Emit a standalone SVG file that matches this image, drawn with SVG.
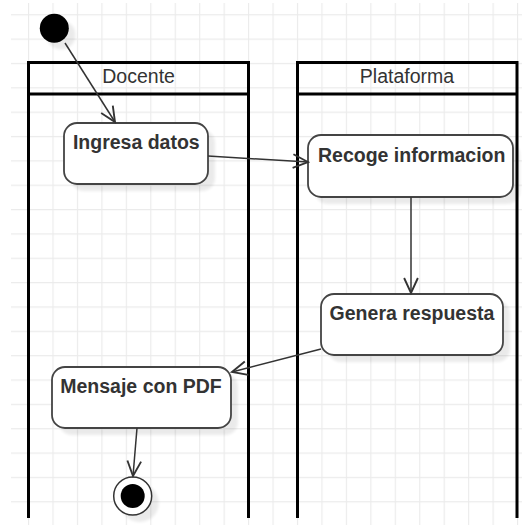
<svg xmlns="http://www.w3.org/2000/svg" width="522" height="525" viewBox="0 0 522 525">
  <defs>
    <pattern id="grid" patternUnits="userSpaceOnUse" x="28" y="14.2" width="24.45" height="24.35">
      <path d="M0,0.5 H24.45 M0.5,0 V24.35" fill="none" stroke="#ebebeb" stroke-width="1.3"/>
    </pattern>
    <filter id="blur" x="-20%" y="-20%" width="140%" height="140%">
      <feGaussianBlur stdDeviation="1.5"/>
    </filter>
    <marker id="arrow" markerUnits="userSpaceOnUse" markerWidth="20" markerHeight="20" viewBox="-14 -8 16 16" refX="0" refY="0" orient="auto">
      <path d="M-12,-5.5 L0,0 L-12,5.5" fill="none" stroke="#333" stroke-width="1.5"/>
    </marker>
    <style>
      .lane { fill: none; stroke: #000; stroke-width: 3; }
      .head { font-family: "Liberation Sans", Arial, sans-serif; font-size: 19.5px; fill: #333; text-anchor: middle; }
      .box { fill: #fff; stroke: #444; stroke-width: 1.8; }
      .shadow { fill: #000; opacity: 0.08; filter: url(#blur); }
      .label { font-family: "Liberation Sans", Arial, sans-serif; font-size: 19.5px; font-weight: bold; fill: #333; text-anchor: middle; }
      .edge { fill: none; stroke: #333; stroke-width: 1.5; marker-end: url(#arrow); }
    </style>
  </defs>

  <rect width="522" height="525" fill="#fff"/>
  <rect x="11" y="3" width="511" height="522" fill="url(#grid)"/>

  <g id="lane-docente">
    <path class="lane" d="M28.5,518 V62.5 H248.5 V518 M28.5,94 H248.5"/>
    <text class="head" x="138.6" y="83">Docente</text>
  </g>
  <g id="lane-plataforma">
    <path class="lane" d="M297.5,518 V62.5 H517 V518 M297.5,94 H517"/>
    <text class="head" x="407" y="83">Plataforma</text>
  </g>

  <g id="start">
    <circle class="shadow" cx="61" cy="35" r="14.5"/>
    <circle cx="54.3" cy="28.3" r="14.5" fill="#000"/>
  </g>

  <g id="ingresa-datos">
    <rect class="shadow" x="71" y="130" width="144" height="61" rx="13"/>
    <rect class="box" x="64" y="123" width="144" height="61" rx="13"/>
    <text class="label" x="136.3" y="149">Ingresa datos</text>
  </g>

  <g id="recoge-informacion">
    <rect class="shadow" x="315" y="142" width="205" height="62" rx="13"/>
    <rect class="box" x="308" y="135" width="205" height="62" rx="13"/>
    <text class="label" x="411.7" y="161.7">Recoge informacion</text>
  </g>

  <g id="genera-respuesta">
    <rect class="shadow" x="328" y="301" width="182" height="61" rx="13"/>
    <rect class="box" x="321" y="294" width="182" height="61" rx="13"/>
    <text class="label" x="412" y="319.5">Genera respuesta</text>
  </g>

  <g id="mensaje-pdf">
    <rect class="shadow" x="59" y="374" width="179" height="61" rx="13"/>
    <rect class="box" x="52" y="367" width="179" height="61" rx="13"/>
    <text class="label" x="141" y="393.3">Mensaje con PDF</text>
  </g>

  <g id="end">
    <circle class="shadow" cx="139.7" cy="503" r="19"/>
    <circle cx="132.7" cy="496" r="19" fill="#fff" stroke="#333" stroke-width="1.5"/>
    <circle cx="132.7" cy="496" r="12" fill="#000"/>
  </g>

  <g id="connectors">
    <line class="edge" x1="65" y1="43" x2="115" y2="122"/>
    <line class="edge" x1="208" y1="156" x2="308" y2="162"/>
    <line class="edge" x1="411" y1="197" x2="411" y2="293"/>
    <line class="edge" x1="321" y1="349" x2="232" y2="372"/>
    <line class="edge" x1="137" y1="428" x2="133" y2="476"/>
  </g>
</svg>
